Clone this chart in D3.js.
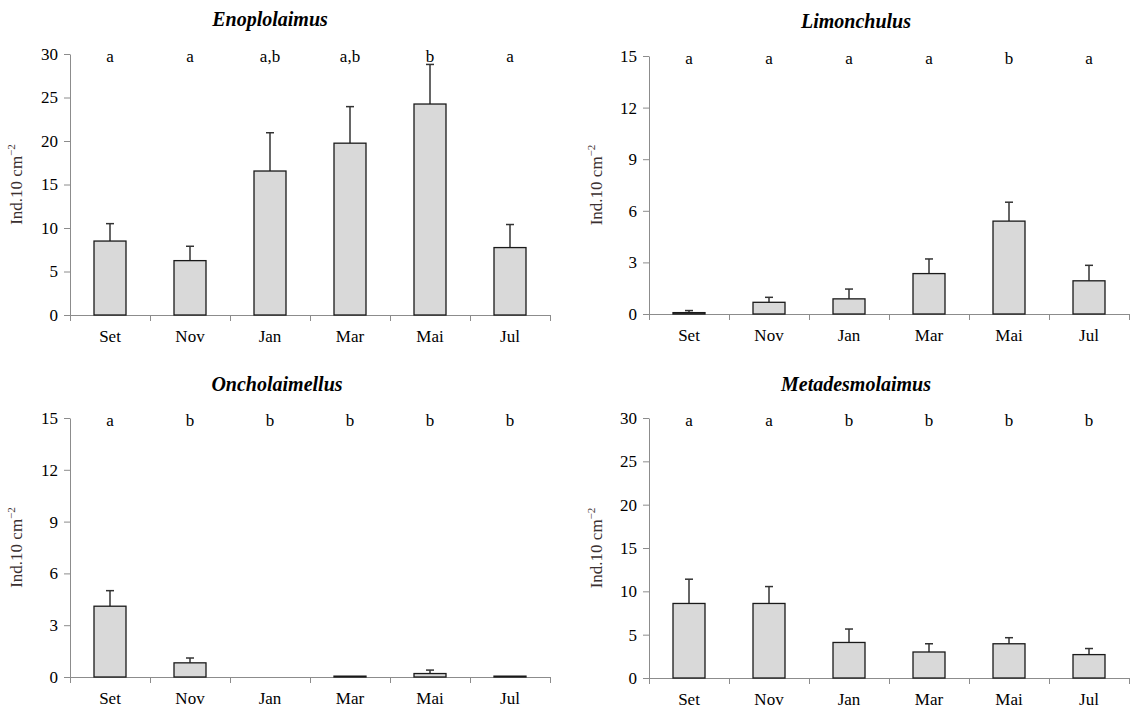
<!DOCTYPE html>
<html>
<head>
<meta charset="utf-8">
<script src="https://cdn.jsdelivr.net/npm/d3@7"></script>
<style>
  body { margin: 0; background: #fff; }
  svg { font-family: "Liberation Serif", "Times New Roman", serif; }
</style>
</head>
<body>
<svg width="1130" height="713"></svg>
<script>
// months sampled
const months = ['Set', 'Nov', 'Jan', 'Mar', 'Mai', 'Jul'];

// mean density (Ind.10 cm-2) and upper error per genus
const enoMean = [8.5, 6.25, 16.55, 19.75, 24.25, 7.75];
const enoErr  = [10.5, 7.9, 20.95, 23.95, 28.8, 10.4];
const enoLetters = ['a', 'a', 'a,b', 'a,b', 'b', 'a'];

const limMean = [0.08, 0.68, 0.88, 2.35, 5.4, 1.93];
const limErr  = [0.2, 0.97, 1.45, 3.2, 6.5, 2.83];
const limLetters = ['a', 'a', 'a', 'a', 'b', 'a'];

const oncMean = [4.1, 0.82, 0, 0.05, 0.2, 0.05];
const oncErr  = [5.0, 1.1, 0, 0.05, 0.4, 0.05];
const oncLetters = ['a', 'b', 'b', 'b', 'b', 'b'];

const metMean = [8.6, 8.6, 4.1, 3.0, 3.95, 2.7];
const metErr  = [11.4, 10.55, 5.65, 3.95, 4.65, 3.4];
const metLetters = ['a', 'a', 'b', 'b', 'b', 'b'];

const ticks30 = [0, 5, 10, 15, 20, 25, 30];
const ticks15 = [0, 3, 6, 9, 12, 15];

const svg = d3.select('svg');

// one panel: x,y = top-left of plot area, w/h = plot size
const drawPanel = (p) => {
  const g = svg.append('g').attr('transform', `translate(${p.x}, ${p.y})`);
  const xScale = d3.scaleBand().domain(months).range([0, p.w]);
  const yScale = d3.scaleLinear().domain([0, p.max]).range([p.h, 0]);
  const barW = xScale.bandwidth() * 0.4;

  // title
  g.append('text')
    .attr('x', p.titleX).attr('y', p.titleY)
    .attr('text-anchor', 'middle')
    .style('font-weight', 'bold').style('font-style', 'italic')
    .style('font-size', '20px').attr('fill', '#000')
    .text(p.title);

  // y axis
  const yAxis = g.append('g')
    .call(d3.axisLeft(yScale).tickValues(p.ticks).tickSize(6).tickPadding(6).tickSizeOuter(0));
  yAxis.select('.domain').attr('stroke', '#8c8c8c');
  yAxis.selectAll('.tick line').attr('stroke', '#8c8c8c');
  yAxis.selectAll('text').style('font-size', '17px').style('font-family', '"Liberation Serif", serif').attr('fill', '#000');

  // x axis: ticks at band edges, labels at band centres
  const edge = d3.scaleLinear().domain([0, months.length]).range([0, p.w]);
  const xAxis = g.append('g').attr('transform', `translate(0, ${p.h})`)
    .call(d3.axisBottom(edge).ticks(months.length).tickSize(6).tickFormat('').tickSizeOuter(0));
  xAxis.select('.domain').attr('stroke', '#8c8c8c');
  xAxis.selectAll('.tick line').attr('stroke', '#8c8c8c');
  const xLab = g.append('g').attr('transform', `translate(0, ${p.h})`)
    .call(d3.axisBottom(xScale).tickSize(0).tickPadding(15));
  xLab.select('.domain').remove();
  xLab.selectAll('text').style('font-size', '17px').style('font-family', '"Liberation Serif", serif').attr('fill', '#000');

  // y label
  const lab = g.append('text')
    .attr('transform', `translate(${p.labX}, ${p.h / 2}) rotate(-90)`)
    .attr('text-anchor', 'middle')
    .style('font-size', '17px').attr('fill', '#3a3030');
  lab.append('tspan').text('Ind.10 cm');
  lab.append('tspan').attr('dy', -7).style('font-size', '11px').text('−2');

  const rows = months.map((m, i) => ({ m, v: p.mean[i], e: p.err[i], l: p.letters[i] }));

  // error bars (upper only)
  const eb = g.selectAll('.err').data(rows.filter(d => d.e > d.v)).enter().append('g').attr('class', 'err');
  eb.append('line')
    .attr('x1', d => xScale(d.m) + xScale.bandwidth() / 2)
    .attr('x2', d => xScale(d.m) + xScale.bandwidth() / 2)
    .attr('y1', d => yScale(d.v)).attr('y2', d => yScale(d.e))
    .attr('stroke', '#333').attr('stroke-width', 1.5);
  eb.append('line')
    .attr('x1', d => xScale(d.m) + xScale.bandwidth() / 2 - 4)
    .attr('x2', d => xScale(d.m) + xScale.bandwidth() / 2 + 4)
    .attr('y1', d => yScale(d.e)).attr('y2', d => yScale(d.e))
    .attr('stroke', '#333').attr('stroke-width', 1.5);

  // bars
  g.selectAll('.bar').data(rows.filter(d => d.v > 0)).enter().append('rect')
    .attr('class', 'bar')
    .attr('x', d => xScale(d.m) + (xScale.bandwidth() - barW) / 2)
    .attr('y', d => yScale(d.v))
    .attr('width', barW)
    .attr('height', d => Math.max(yScale(0) - yScale(d.v), 0.5))
    .attr('fill', '#d9d9d9').attr('stroke', '#1a1a1a').attr('stroke-width', 1.3);

  // significance letters
  g.selectAll('.letter').data(rows).enter().append('text')
    .attr('class', 'letter')
    .attr('x', d => xScale(d.m) + xScale.bandwidth() / 2)
    .attr('y', yScale(p.max) + 8)
    .attr('text-anchor', 'middle')
    .style('font-size', '17px').attr('fill', '#000')
    .text(d => d.l);
};

drawPanel({ x: 70, y: 54, w: 480, h: 261, max: 30, ticks: ticks30, title: 'Enoplolaimus',
  titleX: 200, titleY: -28, labX: -48, mean: enoMean, err: enoErr, letters: enoLetters });
drawPanel({ x: 649, y: 56, w: 480, h: 258, max: 15, ticks: ticks15, title: 'Limonchulus',
  titleX: 207, titleY: -28, labX: -47, mean: limMean, err: limErr, letters: limLetters });
drawPanel({ x: 70, y: 418, w: 480, h: 259, max: 15, ticks: ticks15, title: 'Oncholaimellus',
  titleX: 207, titleY: -27, labX: -48, mean: oncMean, err: oncErr, letters: oncLetters });
drawPanel({ x: 649, y: 418, w: 480, h: 260, max: 30, ticks: ticks30, title: 'Metadesmolaimus',
  titleX: 207, titleY: -27, labX: -47, mean: metMean, err: metErr, letters: metLetters });
</script>
</body>
</html>
